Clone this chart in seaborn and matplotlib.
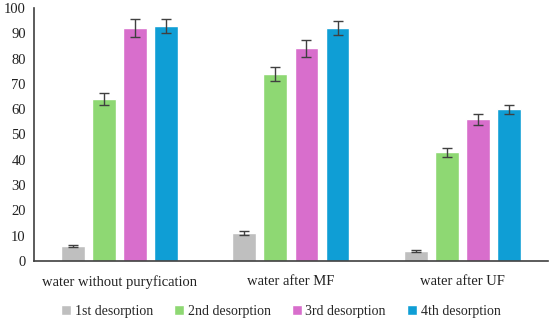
import matplotlib
matplotlib.use("Agg")
import matplotlib.pyplot as plt
import seaborn as sns
import pandas as pd
import numpy as np

categories = ["water without puryfication", "water after MF", "water after UF"]
series = ["1st desorption", "2nd desorption", "3rd desorption", "4th desorption"]
values = {
    "1st desorption": [6, 11, 4],
    "2nd desorption": [64, 74, 43],
    "3rd desorption": [92, 84, 56],
    "4th desorption": [93, 92, 60],
}
errors = {
    "1st desorption": [0.5, 0.8, 0.3],
    "2nd desorption": [2.5, 2.8, 1.8],
    "3rd desorption": [3.5, 3.5, 2.3],
    "4th desorption": [2.8, 2.8, 1.8],
}
colors = ["#BFBFBF", "#8ED873", "#D86ECC", "#0F9ED5"]

rows = []
for s in series:
    for c, v, e in zip(categories, values[s], errors[s]):
        rows.append({"cat": c, "series": s, "value": v, "err": e})
df = pd.DataFrame(rows)

sns.set_style("white")
plt.rcParams["font.family"] = ["Liberation Serif", "DejaVu Serif"]

fig = plt.figure(figsize=(5.5, 3.21), dpi=100)
ax = fig.add_axes([0.062, 0.187, 0.934, 0.788])
sns.barplot(data=df, x="cat", y="value", hue="series", order=categories,
            hue_order=series, palette=colors, width=0.725, gap=0.23,
            errorbar=None, ax=ax, saturation=1, legend=True)

for i, s in enumerate(series):
    cont = ax.containers[i]
    xs = [p.get_x() + p.get_width() / 2 for p in cont.patches]
    ax.errorbar(xs, values[s], yerr=errors[s], fmt="none", ecolor="#404040",
                elinewidth=1, capsize=3.5, capthick=1)

ax.set_ylim(0, 100)
ax.set_xlim(-0.5, 2.5)
ax.set_yticks(range(0, 101, 10))
ax.set_xlabel("")
ax.set_ylabel("")
for side in ["top", "right"]:
    ax.spines[side].set_visible(False)
for side in ["left", "bottom"]:
    ax.spines[side].set_color("#404040")
    ax.spines[side].set_linewidth(1.2)
ax.tick_params(axis="both", length=0, labelsize=10.5, colors="#222222", pad=6)
ax.tick_params(axis="x", pad=10)

leg = ax.legend(loc="center", bbox_to_anchor=(0.48, -0.2), ncol=4,
                frameon=False, fontsize=10, handlelength=0.75, handleheight=0.75,
                handletextpad=0.25, columnspacing=1.5, borderaxespad=0, borderpad=0)
fig.savefig("out.png", dpi=100)
